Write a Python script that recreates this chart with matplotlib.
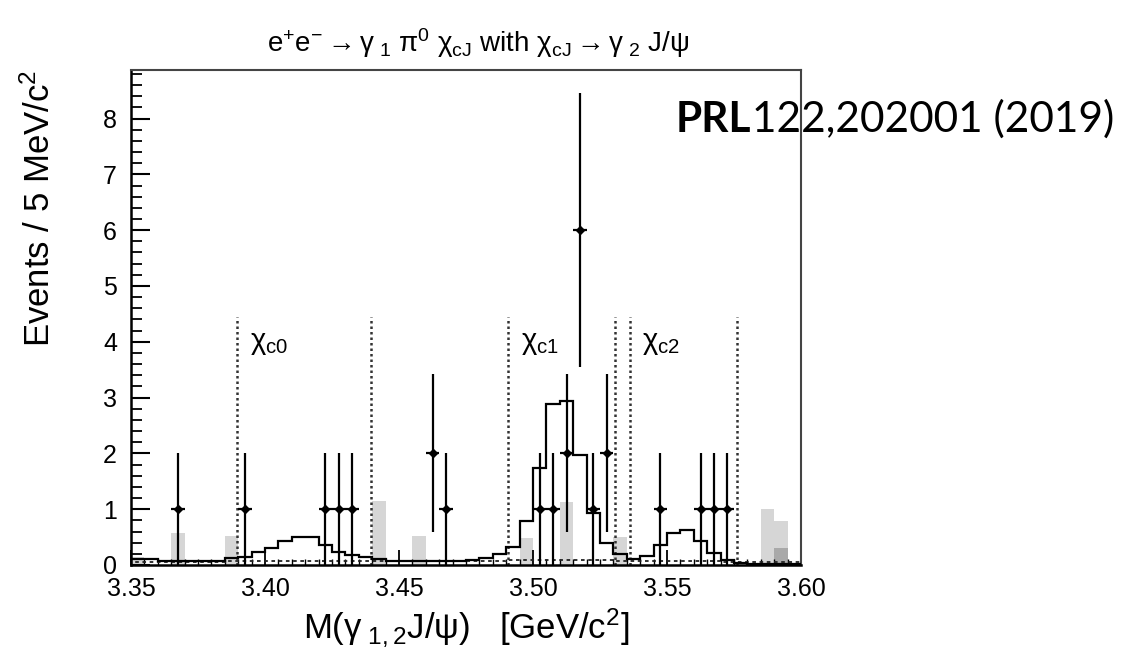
import numpy as np
import matplotlib
matplotlib.use("Agg")
import matplotlib.pyplot as plt
from matplotlib.ticker import MultipleLocator, FormatStrFormatter

plt.rcParams["font.family"] = ["Liberation Sans", "DejaVu Sans"]
plt.rcParams["mathtext.fontset"] = "custom"
plt.rcParams["mathtext.rm"] = "Liberation Sans"
plt.rcParams["mathtext.it"] = "Liberation Sans:italic"
plt.rcParams["mathtext.sf"] = "Liberation Sans"

# ---- binning (5 MeV/c^2 bins) ----
bin_edges = np.round(np.arange(3.35, 3.6001, 0.005), 4)

# ---- data: bin centres and event counts ----
data_mass = [3.3675, 3.3925, 3.4225, 3.4275, 3.4325, 3.4625, 3.4675,
             3.5025, 3.5075, 3.5125, 3.5175, 3.5225, 3.5275,
             3.5475, 3.5625, 3.5675, 3.5725]
data_counts = [1, 1, 1, 1, 1, 2, 1,
               1, 1, 2, 6, 1, 2,
               1, 1, 1, 1]

# ---- signal MC shape (solid histogram), one value per bin ----
signal_mc = [0.10, 0.10, 0.07, 0.07, 0.07, 0.08, 0.08, 0.12, 0.15, 0.24,
             0.31, 0.43, 0.51, 0.51, 0.36, 0.24, 0.18, 0.14, 0.10, 0.08,
             0.07, 0.07, 0.07, 0.07, 0.08, 0.09, 0.12, 0.20, 0.33, 0.79,
             1.73, 2.88, 2.94, 1.97, 0.94, 0.39, 0.20, 0.11, 0.17, 0.35,
             0.57, 0.62, 0.43, 0.22, 0.09, 0.04, 0.01, 0.01, 0.01, 0.01]

# ---- background shape (dashed histogram) ----
bkg_mc = [0.06, 0.06, 0.06, 0.06, 0.06, 0.06, 0.06, 0.07, 0.07, 0.07,
          0.07, 0.07, 0.07, 0.07, 0.07, 0.07, 0.07, 0.07, 0.07, 0.07,
          0.07, 0.07, 0.07, 0.07, 0.07, 0.07, 0.08, 0.08, 0.09, 0.09,
          0.09, 0.09, 0.09, 0.09, 0.09, 0.09, 0.08, 0.07, 0.07, 0.07,
          0.07, 0.07, 0.07, 0.07, 0.06, 0.06, 0.05, 0.05, 0.05, 0.05]

# ---- sideband estimate (light grey) and other background (dark grey) ----
sideband_lo = [3.350, 3.365, 3.385, 3.440, 3.455, 3.495, 3.510, 3.530, 3.585, 3.590]
sideband_val = [0.15, 0.58, 0.52, 1.14, 0.52, 0.49, 1.12, 0.50, 1.01, 0.79]
other_lo = [3.590]
other_val = [0.31]

# ---- chi_cJ signal windows ----
window_edges = [3.3897, 3.4397, 3.4907, 3.5307, 3.5362, 3.5762]
window_height = 4.45
window_labels = [r"$\mathregular{\chi_{c0}}$", r"$\mathregular{\chi_{c1}}$", r"$\mathregular{\chi_{c2}}$"]
window_label_x = [3.3945, 3.4955, 3.5408]

W, H = 1128, 664
fig = plt.figure(figsize=(W / 100, H / 100), dpi=100)
ax = fig.add_axes([131 / W, 1 - 565 / H, (801 - 131) / W, (565 - 70) / H])

ax.bar(sideband_lo, sideband_val, width=0.005, align="edge",
       color="#d6d6d6", linewidth=0, zorder=1)
ax.bar(other_lo, other_val, width=0.005, align="edge",
       color="#a9a9a9", linewidth=0, zorder=1.1)

ax.stairs(bkg_mc, bin_edges, color="#222222", lw=1.3,
          linestyle=(0, (2, 2)), zorder=2)
ax.stairs(signal_mc, bin_edges, color="black", lw=1.6, zorder=3)

for xe in window_edges:
    ax.plot([xe, xe], [0, window_height], color="#333333", lw=1.8,
            linestyle=(0, (1, 1.2)), zorder=2.5)
for lx, lab in zip(window_label_x, window_labels):
    ax.text(lx, 3.98, lab, fontsize=21, ha="left", va="center", zorder=5)

data_err = np.sqrt(np.array(data_counts, dtype=float))
ax.errorbar(data_mass, data_counts, yerr=data_err, xerr=0.0025,
            fmt="D", ms=4, color="black", ecolor="black",
            elinewidth=1.6, capsize=0, zorder=4)

ax.set_xlim(3.35, 3.60)
ax.set_ylim(0, 8.87)

ax.xaxis.set_major_locator(MultipleLocator(0.05))
ax.xaxis.set_minor_locator(MultipleLocator(0.005))
ax.xaxis.set_major_formatter(FormatStrFormatter("%.2f"))
ax.yaxis.set_major_locator(MultipleLocator(1))
ax.yaxis.set_minor_locator(MultipleLocator(0.2))

ax.tick_params(axis="x", which="major", direction="in", length=11, width=1.3,
               labelsize=18, pad=9, top=False)
ax.tick_params(axis="x", which="minor", direction="in", length=4, width=1.0, top=False)
ax.tick_params(axis="y", which="major", direction="in", length=14, width=1.5,
               labelsize=18, pad=10, right=False)
ax.tick_params(axis="y", which="minor", direction="in", length=8, width=1.3, right=False)

for side in ["left", "bottom"]:
    ax.spines[side].set_linewidth(1.8)
    ax.spines[side].set_color("black")
for side in ["top", "right"]:
    ax.spines[side].set_linewidth(1.5)
    ax.spines[side].set_color("#444444")

fig.text(478 / W, 1 - 52 / H,
         r"$\mathregular{e^{+}e^{-} \rightarrow \gamma_{\ 1}\ \pi^{0}\ \chi_{cJ}}$ with "
         r"$\mathregular{\chi_{cJ} \rightarrow \gamma_{\ 2}\ J/\psi}$",
         fontsize=20, ha="center", va="baseline")

fig.text(466 / W, 1 - 638 / H,
         r"$\mathregular{M(\gamma_{\ 1,2}J/\psi)\ \ \ [GeV/c^{2}]}$",
         fontsize=25, ha="center", va="baseline")

fig.text(40 / W, 1 - 208 / H, r"Events / 5 MeV/c$\mathregular{^{2}}$",
         fontsize=25, rotation=90, ha="center", va="center")

# reference tag: bold journal name followed by the citation
fig.canvas.draw()
renderer = fig.canvas.get_renderer()
t1 = fig.text(676 / W, 1 - 132 / H, "PRL", fontsize=30.5, fontweight="bold",
              family=["Lato", "DejaVu Sans"], ha="left", va="baseline")
bb = t1.get_window_extent(renderer=renderer)
fig.text(bb.x1 / W, 1 - 132 / H, "122,202001 (2019)", fontsize=30.5,
         family=["Lato", "DejaVu Sans"], ha="left", va="baseline")

fig.savefig("out.png", dpi=100)
